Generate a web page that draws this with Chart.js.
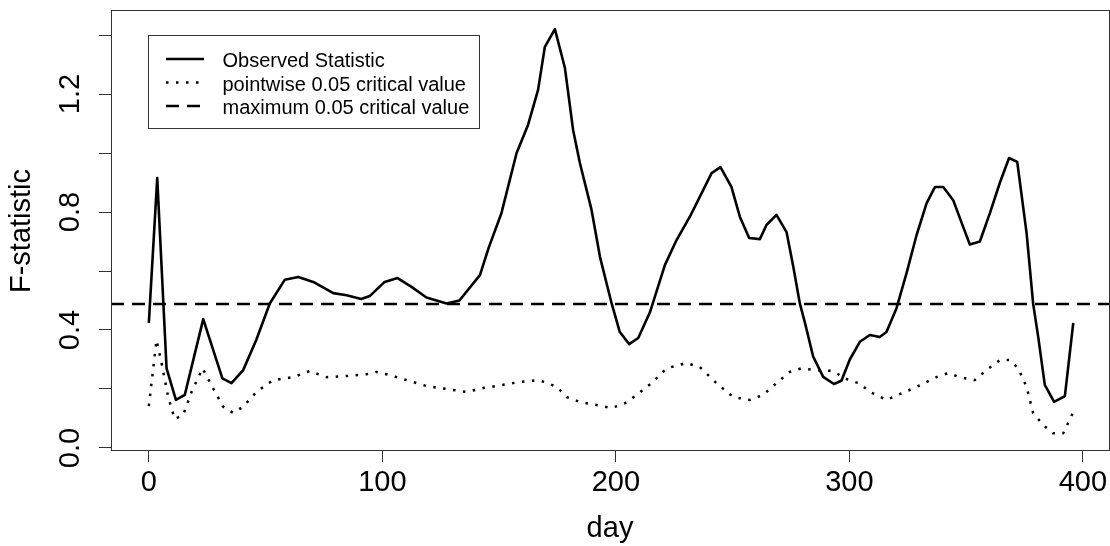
<!DOCTYPE html>
<html>
<head>
<meta charset="utf-8">
<title>F-statistic by day</title>
<script src="https://cdn.jsdelivr.net/npm/chart.js@4"></script>
<style>
  html, body { margin: 0; padding: 0; background: #fff; }
</style>
</head>
<body>
<canvas id="fstat" width="1110" height="546"></canvas>
<script>
// observed F statistic along the day axis
const obsDays = [0, 3.6, 7.6, 11.6, 15.4, 23.3, 31.5, 35.4, 40.4, 46, 51.8, 58.2, 64, 70.4, 79, 84.7, 91, 94.6,
  101, 106.5, 112.5, 118.9, 127.5, 133, 141.8, 145.6, 151, 157.5, 162.4, 166.7, 169.6, 173.9, 178.2, 181.7,
  184.6, 189.6, 193.2, 198.2, 201.7, 205.7, 209.6, 214.6, 221, 226, 231.7, 236, 241, 244.8, 249.5, 253.1,
  257.1, 261.7, 264.5, 268.8, 273.1, 276, 278.8, 281, 284.5, 288.8, 293.4, 296.6, 300.2, 304.5, 308.8, 313,
  315.9, 320.2, 324.5, 328.8, 333.1, 336.7, 340.2, 344.5, 348.1, 351.6, 355.9, 360.2, 364.5, 368.4, 371.9,
  375.9, 378.7, 380.9, 383.7, 387.7, 392.3, 395.9];
const obsValues = [0.424, 0.915, 0.27, 0.163, 0.18, 0.437, 0.236, 0.22, 0.264, 0.366, 0.49, 0.57, 0.58, 0.563,
  0.525, 0.518, 0.505, 0.515, 0.563, 0.576, 0.546, 0.51, 0.49, 0.5, 0.586, 0.68, 0.796, 1.0, 1.095, 1.214,
  1.36, 1.42, 1.288, 1.078, 0.966, 0.807, 0.648, 0.49, 0.393, 0.352, 0.373, 0.46, 0.62, 0.705, 0.784, 0.852,
  0.932, 0.952, 0.885, 0.784, 0.712, 0.708, 0.756, 0.79, 0.732, 0.614, 0.49, 0.424, 0.31, 0.241, 0.217,
  0.228, 0.3, 0.36, 0.383, 0.376, 0.393, 0.474, 0.593, 0.722, 0.83, 0.885, 0.885, 0.84, 0.763, 0.69, 0.7,
  0.796, 0.9, 0.983, 0.97, 0.729, 0.49, 0.376, 0.214, 0.156, 0.176, 0.424];

// pointwise 0.05 critical value
const pwDays = [0, 3.3, 5.4, 8.3, 11.1, 14.7, 18.3, 23, 27.5, 31.8, 36.1, 40.4, 46.1, 53.2, 61.8, 68.9, 76.1,
  84.7, 93.2, 97.5, 103.2, 110.4, 118.9, 127.5, 136, 143.2, 150.3, 158.9, 166.7, 171, 175.3, 178.9, 184.6,
  191.7, 198.1, 203.9, 208.9, 215.3, 221.7, 230.3, 236, 243.1, 250.2, 257.4, 263.1, 268.8, 274.5, 279.5,
  285.9, 293, 298, 304.5, 308.8, 315.9, 320.9, 328.8, 337.3, 342.3, 347.3, 353.7, 358.7, 364.5, 368.7,
  372.3, 375.9, 378.7, 383, 387.3, 391.6, 395.9];
const pwValues = [0.142, 0.366, 0.29, 0.173, 0.098, 0.112, 0.19, 0.27, 0.203, 0.14, 0.119, 0.14, 0.19, 0.23,
  0.24, 0.261, 0.24, 0.244, 0.25, 0.258, 0.247, 0.23, 0.21, 0.2, 0.19, 0.203, 0.212, 0.224, 0.23, 0.22,
  0.203, 0.173, 0.156, 0.146, 0.135, 0.152, 0.18, 0.22, 0.27, 0.288, 0.274, 0.22, 0.173, 0.163, 0.18, 0.22,
  0.258, 0.27, 0.264, 0.261, 0.236, 0.218, 0.19, 0.163, 0.18, 0.207, 0.24, 0.254, 0.24, 0.23, 0.264, 0.298,
  0.298, 0.27, 0.207, 0.119, 0.078, 0.05, 0.05, 0.122];

// maximum 0.05 critical value (constant)
const maxCritical = 0.488;

const seriesNames = ['Observed Statistic', 'pointwise 0.05 critical value', 'maximum 0.05 critical value'];
const xTicks = [0, 100, 200, 300, 400];
const yTicks = [0, 0.2, 0.4, 0.6, 0.8, 1.0, 1.2, 1.4];
const yLabelled = [0, 0.4, 0.8, 1.2];

const X_MIN = -16.2, X_MAX = 411.2;
const Y_MIN = -0.0102, Y_MAX = 1.4814;
const FONT = '"Liberation Sans", Arial, Helvetica, sans-serif';

const toPoints = (xs, ys) => xs.map((x, i) => ({ x, y: ys[i] }));

const lineStyles = [
  { borderWidth: 2.6, borderDash: [] },
  { borderWidth: 2.5, borderDash: [2.5, 7.5] },
  { borderWidth: 2.6, borderDash: [13, 8] },
];

// fixed axis sizes, no extra room for half labels at the ends
const fixSize = (w, h) => s => {
  if (w !== null) s.width = w;
  if (h !== null) s.height = h;
  s.paddingTop = s.paddingBottom = s.paddingLeft = s.paddingRight = 0;
};

// box round the plot region plus the legend inside it
const frameAndKey = {
  id: 'frameAndKey',
  afterDatasetsDraw(chart) {
    const { ctx, chartArea: a } = chart;
    ctx.save();
    ctx.strokeStyle = '#333';
    ctx.lineWidth = 1;
    ctx.strokeRect(a.left + 0.5, a.top - 0.5, a.right - a.left, a.bottom - a.top);

    ctx.strokeRect(148.5, 35.5, 331, 93);
    ctx.font = '20px ' + FONT;
    ctx.fillStyle = '#000';
    ctx.textBaseline = 'alphabetic';
    seriesNames.forEach((name, i) => {
      const y = 59 + i * 23.5;
      ctx.beginPath();
      ctx.strokeStyle = '#000';
      ctx.lineWidth = lineStyles[i].borderWidth;
      ctx.setLineDash(lineStyles[i].borderDash);
      ctx.moveTo(166, y);
      ctx.lineTo(204, y);
      ctx.stroke();
      ctx.fillText(name, 222.5, y + 8);
    });
    ctx.restore();
  }
};

new Chart(document.getElementById('fstat'), {
  type: 'line',
  data: {
    datasets: [
      { label: seriesNames[0], data: toPoints(obsDays, obsValues), ...lineStyles[0] },
      { label: seriesNames[1], data: toPoints(pwDays, pwValues), ...lineStyles[1] },
      { label: seriesNames[2], data: [{ x: X_MIN, y: maxCritical }, { x: X_MAX, y: maxCritical }], ...lineStyles[2] },
    ].map(ds => ({ ...ds, borderColor: '#000', pointRadius: 0, tension: 0, fill: false,
      borderJoinStyle: 'round', borderCapStyle: 'butt' }))
  },
  options: {
    responsive: false,
    animation: false,
    layout: { padding: { top: 11, right: 1, left: 0, bottom: 0 } },
    plugins: { legend: { display: false }, tooltip: { enabled: false } },
    scales: {
      x: {
        type: 'linear', min: X_MIN, max: X_MAX,
        afterBuildTicks: s => { s.ticks = xTicks.map(v => ({ value: v })); },
        afterFit: fixSize(null, 95),
        grid: { drawOnChartArea: false, tickLength: 11, tickColor: '#333' },
        border: { display: false },
        ticks: { color: '#000', font: { family: FONT, size: 29 }, padding: 4, maxRotation: 0, autoSkip: false },
        title: { display: true, text: 'day', color: '#000', font: { family: FONT, size: 29 }, padding: { top: 0, bottom: 0 } }
      },
      y: {
        type: 'linear', min: Y_MIN, max: Y_MAX,
        afterBuildTicks: s => { s.ticks = yTicks.map(v => ({ value: v })); },
        afterFit: fixSize(111, null),
        grid: { drawOnChartArea: false, tickLength: 12, tickColor: '#333' },
        border: { display: false },
        ticks: {
          color: '#000', font: { family: FONT, size: 29 }, padding: 8, autoSkip: false,
          minRotation: 90, maxRotation: 90, crossAlign: 'center',
          callback: v => yLabelled.includes(v) ? v.toFixed(1) : ''
        },
        title: { display: true, text: 'F-statistic', color: '#000', font: { family: FONT, size: 29 }, padding: { top: 5, bottom: 0 } }
      }
    }
  },
  plugins: [frameAndKey]
});
</script>
</body>
</html>
